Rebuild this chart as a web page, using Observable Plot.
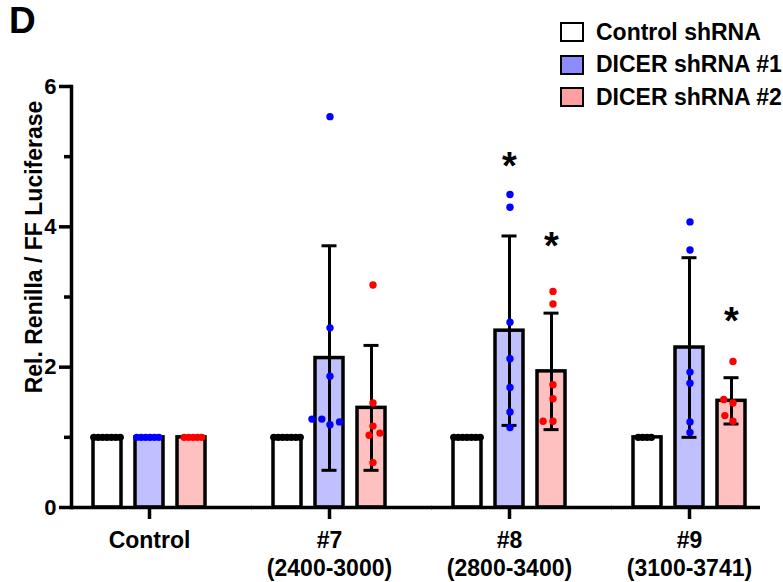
<!DOCTYPE html>
<html>
<head>
<meta charset="utf-8">
<script src="https://cdn.jsdelivr.net/npm/d3@7"></script>
<script src="https://cdn.jsdelivr.net/npm/@observablehq/plot@0.6"></script>
<style>
  body { margin: 0; background: #fff; }
  #wrap { position: relative; width: 783px; height: 582px; font-family: "Liberation Sans", Arial, sans-serif; font-weight: bold; color: #000; overflow: hidden; }
  #chart { position: absolute; left: 0; top: 0; }
  #panel { position: absolute; left: 9px; top: 2px; font-size: 37px; line-height: 1; }
  #legend { position: absolute; left: 560px; top: 16px; }
  .row { display: flex; align-items: center; height: 32.5px; font-size: 23px; line-height: 1; white-space: nowrap; }
  .sw { width: 24px; height: 20px; border: 2.5px solid #000; box-sizing: border-box; margin-right: 12px; flex: none; }
</style>
</head>
<body>
<div id="wrap">
  <div id="chart"></div>
  <div id="panel">D</div>
  <div id="legend"></div>
</div>
<script>
// ---- data ----
const groups = ["Control", "#7", "#8", "#9"];
const groupRanges = ["", "(2400-3000)", "(2800-3400)", "(3100-3741)"];
const series = ["Control shRNA", "DICER shRNA #1", "DICER shRNA #2"];

const meanControlShRNA = [1, 1, 1, 1];
const meanDicer1 = [1, 2.13, 2.52, 2.28];
const meanDicer2 = [1, 1.42, 1.94, 1.52];
const sdControlShRNA = [0, 0, 0, 0];
const sdDicer1 = [0, 1.60, 1.35, 1.28];
const sdDicer2 = [0, 0.89, 0.83, 0.33];

const dotsControlShRNA = [
  [1, 1, 1, 1, 1, 1, 1],
  [1, 1, 1, 1, 1, 1, 1],
  [1, 1, 1, 1, 1, 1, 1],
  [1, 1, 1, 1]
];
const dotsDicer1 = [
  [1, 1, 1, 1, 1, 1],
  [5.57, 2.56, 1.87, 1.18, 1.26, 1.22, 1.26],
  [4.46, 4.28, 2.64, 2.12, 1.71, 1.36, 1.14],
  [4.07, 3.67, 1.93, 1.77, 1.22, 1.07]
];
const dotsDicer2 = [
  [1, 1, 1, 1, 1],
  [3.17, 1.49, 1.16, 1.03, 1.06, 0.64],
  [3.08, 2.90, 1.75, 1.55, 1.23, 1.23],
  [2.08, 1.49, 1.54, 1.23, 1.31]
];

const sigGroup = ["#8", "#8", "#9"];
const sigSeries = ["DICER shRNA #1", "DICER shRNA #2", "DICER shRNA #2"];
const sigY = [4.94, 3.80, 2.73];

const yTicks = [0, 2, 4, 6];
const yMinorTicks = [1, 3, 5];
const yTitle = "Rel. Renilla / FF Luciferase";

// ---- styles ----
const barFills = ["#ffffff", "#c0c0ff", "#ffc0c0"];
const dotColors = ["#000000", "#0000ff", "#ff0000"];
const swatchFills = ["#ffffff", "#8c8cff", "#ffa0a0"];
const dodgeShift = -13.5;
const dotDx = [-43 + dodgeShift, 0 + dodgeShift, 43 + dodgeShift];

// ---- tables for the library ----
const means = [meanControlShRNA, meanDicer1, meanDicer2];
const sds = [sdControlShRNA, sdDicer1, sdDicer2];
const dots = [dotsControlShRNA, dotsDicer1, dotsDicer2];

const stats = [];
groups.forEach((g, i) => series.forEach((s, k) => stats.push({group: g, series: s, mean: means[k][i], sd: sds[k][i]})));
const withSd = stats.filter(d => d.sd > 0);

const points = series.map((s, k) => {
  const out = [];
  groups.forEach((g, i) => dots[k][i].forEach(v => out.push({group: g, series: s, value: v})));
  return out;
});
// normalised reference samples (packed tightly) vs. spread samples
const isNormalised = d => d.series === series[0] || d.group === groups[0];

const sig = sigGroup.map((g, i) => ({group: g, series: sigSeries[i], y: sigY[i]}));

const SW = 3.5;

const dotMarks = [];
series.forEach((s, k) => {
  dotMarks.push(Plot.dot(points[k].filter(isNormalised), Plot.dodgeX({anchor: "middle", padding: -3}, {
    fx: "group", y: "value", r: 3.7, fill: dotColors[k], dx: dotDx[k]
  })));
  dotMarks.push(Plot.dot(points[k].filter(d => !isNormalised(d)), Plot.dodgeX({anchor: "middle", padding: 2.5}, {
    fx: "group", y: "value", r: 3.7, fill: dotColors[k], dx: dotDx[k]
  })));
});

const plot = Plot.plot({
  width: 783,
  height: 582,
  marginLeft: 70,
  marginRight: 16,
  marginTop: 86,
  marginBottom: 75,
  style: "font-family: 'Liberation Sans', Arial, sans-serif; font-weight: bold; font-size: 21px; color: #000; background: transparent;",
  fx: {domain: groups, paddingInner: 0.135, paddingOuter: 0},
  x: {domain: series, paddingInner: 0.326, paddingOuter: 0.477, axis: null},
  y: {domain: [0, 6]},
  marks: [
    // bars
    ...series.map((s, k) => Plot.barY(stats.filter(d => d.series === s), {
      fx: "group", x: "series", y: "mean", fill: barFills[k], stroke: "#000", strokeWidth: SW
    })),
    // error bars
    Plot.ruleX(withSd, {fx: "group", x: "series", y1: d => d.mean - d.sd, y2: d => d.mean + d.sd, stroke: "#000", strokeWidth: 3}),
    Plot.tickY(withSd, {fx: "group", x: "series", y: d => d.mean + d.sd, stroke: "#000", strokeWidth: 3, insetLeft: 6.5, insetRight: 6.5}),
    Plot.tickY(withSd, {fx: "group", x: "series", y: d => d.mean - d.sd, stroke: "#000", strokeWidth: 3, insetLeft: 6.5, insetRight: 6.5}),
    // replicate dots
    ...dotMarks,
    // significance asterisks
    Plot.text(sig, {fx: "group", x: "series", y: "y", text: () => "*", fontSize: 38, dy: 6}),
    // x axis line
    Plot.ruleY(groups.slice(0, -1), {fx: d => d, y: 0, insetRight: -25, stroke: "#000", strokeWidth: SW}),
    Plot.ruleY(groups.slice(-1), {fx: d => d, y: 0, insetRight: 7, stroke: "#000", strokeWidth: SW}),
    // y axis
    Plot.frame({anchor: "left", facetAnchor: "left", stroke: "#000", strokeWidth: SW}),
    Plot.axisY({ticks: yTicks, tickSize: 12, tickPadding: 3, tickFormat: d => String(d), strokeWidth: SW, fontSize: 22, label: null}),
    Plot.axisY({ticks: yMinorTicks, tickSize: 7, tickFormat: () => "", strokeWidth: SW, label: null}),
    Plot.text([yTitle], {fx: () => groups[0], frameAnchor: "left", textAnchor: "middle", rotate: -90, dx: -37, dy: -50, fontSize: 23}),
    // group axis
    Plot.axisFx({
      anchor: "bottom", tickSize: 12, tickPadding: 9, strokeWidth: SW, fontSize: 23, lineHeight: 1.2, label: null,
      tickFormat: d => { const i = groups.indexOf(d); return groupRanges[i] ? d + "\n" + groupRanges[i] : d; }
    })
  ]
});
document.getElementById("chart").appendChild(plot);

// legend
const legend = document.getElementById("legend");
series.forEach((s, k) => {
  const row = document.createElement("div");
  row.className = "row";
  const sw = document.createElement("span");
  sw.className = "sw";
  sw.style.background = swatchFills[k];
  const t = document.createElement("span");
  t.textContent = s;
  row.appendChild(sw);
  row.appendChild(t);
  legend.appendChild(row);
});
</script>
</body>
</html>
